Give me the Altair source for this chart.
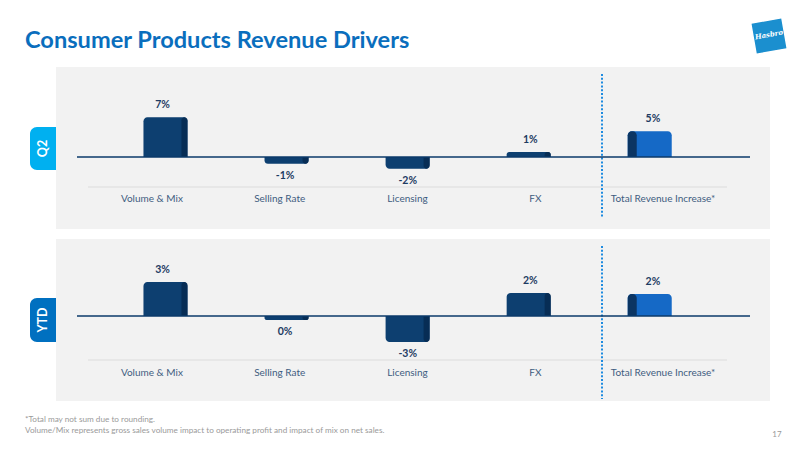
import altair as alt
import pandas as pd

# Revenue driver contributions (percentage points) for each period
categories = ["Volume & Mix", "Selling Rate", "Licensing", "FX", "Total Revenue Increase*"]
q2_values = [7.1, -1.2, -2.1, 0.9, 4.6]
ytd_values = [3.4, -0.4, -2.6, 2.3, 2.2]

title_text = "Consumer Products Revenue Drivers"
footnote_1 = "*Total may not sum due to rounding."
footnote_2 = "Volume/Mix represents gross sales volume impact to operating profit and impact of mix on net sales."
page_number = "17"

FONT = "Lato"
NAVY_TEXT = "#1d3b62"
CAT_TEXT = "#3e5c80"
BAR = "#0d3f70"
BAR_EDGE = "#072d55"
TOTAL = "#1569c6"
TOTAL_EDGE = "#0b3563"
PANEL = "#f2f2f2"

one = pd.DataFrame({"k": [0]})

# position scale for the bars: one slot per driver
X = alt.X("idx:Q", axis=None,
          scale=alt.Scale(domain=[-1.3254, 5.1999], nice=False, zero=False))
# evenly spaced slots for the category captions along the separator line
X_CAPTION = alt.X("idx:Q", axis=None,
                  scale=alt.Scale(domain=[-1.1886, 5.0712], nice=False, zero=False))


def frame(values):
    return pd.DataFrame({
        "idx": list(range(len(categories))),
        "category": categories,
        "value": values,
        "label": [f"{round(v)}%" for v in values],
        "total": [False] * (len(categories) - 1) + [True],
    })


def rect(x1, x2, y1, y2, color, **kw):
    return alt.Chart(one).mark_rect(color=color, **kw).encode(
        x=alt.value(x1), x2=alt.value(x2), y=alt.value(y1), y2=alt.value(y2))


def hline(x1, x2, y, color, width, **kw):
    return alt.Chart(one).mark_rule(color=color, strokeWidth=width, **kw).encode(
        x=alt.value(x1), x2=alt.value(x2), y=alt.value(y))


def vline(x, y1, y2, color, width, **kw):
    return alt.Chart(one).mark_rule(color=color, strokeWidth=width, **kw).encode(
        x=alt.value(x), y=alt.value(y1), y2=alt.value(y2))


def label(x, y, text, **kw):
    return alt.Chart(one).mark_text(**kw).encode(
        x=alt.value(x), y=alt.value(y), text=alt.value(text))


def data_layers(values, y_domain):
    df = frame(values)
    y = alt.Y("value:Q", axis=None, stack=False,
              scale=alt.Scale(domain=y_domain, nice=False))
    base = alt.Chart(df)
    up = {"cornerRadiusTopLeft": 4, "cornerRadiusTopRight": 4}
    down = {"cornerRadiusBottomLeft": 4, "cornerRadiusBottomRight": 4}
    pos = "!datum.total && datum.value >= 0"
    neg = "!datum.total && datum.value < 0"
    tot = "datum.total"
    bars = [
        base.transform_filter(pos).mark_bar(orient="vertical", width=44, color=BAR, **up),
        base.transform_filter(pos).mark_bar(orient="vertical", width=6, xOffset=19,
                                            color=BAR_EDGE, **up),
        base.transform_filter(neg).mark_bar(orient="vertical", width=44, color=BAR, **down),
        base.transform_filter(neg).mark_bar(orient="vertical", width=6, xOffset=19,
                                            color=BAR_EDGE, **down),
        base.transform_filter(tot).mark_bar(orient="vertical", width=44, color=TOTAL, **up),
        base.transform_filter(tot).mark_bar(orient="vertical", width=9, xOffset=-17.5,
                                            color=TOTAL_EDGE, **up),
    ]
    bars = [b.encode(x=X, y=y) for b in bars]
    texts = [
        base.transform_filter("datum.value >= 0").mark_text(
            dy=-12, baseline="middle", font=FONT, fontWeight="bold", fontSize=10.5,
            color=NAVY_TEXT).encode(x=X, y=y, text="label:N"),
        base.transform_filter("datum.value < 0").mark_text(
            dy=12, baseline="middle", font=FONT, fontWeight="bold", fontSize=10.5,
            color=NAVY_TEXT).encode(x=X, y=y, text="label:N"),
    ]
    return df, bars, texts


def category_labels(df, y_px):
    return alt.Chart(df).mark_text(font=FONT, fontSize=10, color=CAT_TEXT,
                                   baseline="middle").encode(
        x=X_CAPTION, y=alt.value(y_px), text="category:N")


# Value scales: Q2 uses 5.6 px per point with zero at y=157,
# YTD uses 10 px per point with zero at y=316 (canvas height 450)
q2_df, q2_bars, q2_text = data_layers(q2_values, [-52.32, 28.04])
ytd_df, ytd_bars, ytd_text = data_layers(ytd_values, [-13.4, 31.6])

decor_back = [
    rect(56, 770, 67, 229, PANEL),
    rect(56, 770, 239, 401, PANEL),
    rect(30, 56, 127, 170, "#00b0f0", cornerRadiusTopLeft=7, cornerRadiusBottomLeft=7),
    rect(30, 56, 298, 342, "#0070c0", cornerRadiusTopLeft=7, cornerRadiusBottomLeft=7),
    hline(88, 727, 187, "#dcdcdc", 1),
    hline(88, 727, 360, "#dcdcdc", 1),
    vline(602, 74, 218, "#1e8be0", 2, strokeDash=[2, 1.8]),
    vline(602, 246, 399, "#1e8be0", 2, strokeDash=[2, 1.8]),
]
zero_lines = [
    hline(77, 750, 157, "#0b3a6a", 1.5),
    hline(77, 750, 316, "#0b3a6a", 1.5),
]
texts = [
    label(43, 148.5, "Q2", angle=270, color="white", font=FONT, fontWeight="bold",
          fontSize=12.5, baseline="middle", align="center"),
    label(43, 320, "YTD", angle=270, color="white", font=FONT, fontWeight="bold",
          fontSize=12.5, baseline="middle", align="center"),
    label(25, 47.5, title_text, font=FONT, fontWeight="bold", fontSize=23.6,
          color="#0a6ebd", align="left", baseline="alphabetic"),
    label(25, 420, footnote_1, font=FONT, fontSize=8.2, color="#9a9a9a",
          align="left", baseline="middle"),
    label(25, 431, footnote_2, font=FONT, fontSize=8.2, color="#9a9a9a",
          align="left", baseline="middle"),
    label(777, 435, page_number, font=FONT, fontSize=8, color="#9a9a9a",
          align="center", baseline="middle"),
]
logo = [
    alt.Chart(one).mark_square(size=1000, angle=350, opacity=1, color="#1b8fcf",
                               stroke="white", strokeWidth=1.5).encode(
        x=alt.value(769), y=alt.value(36)),
    label(769, 35, "Hasbro", font="DejaVu Serif", fontStyle="italic",
          fontWeight="bold", fontSize=7, color="white", angle=350,
          align="center", baseline="middle"),
]

chart = alt.layer(
    *decor_back, *q2_bars, *ytd_bars, *zero_lines, *q2_text, *ytd_text,
    category_labels(q2_df, 199), category_labels(ytd_df, 373), *texts, *logo,
).resolve_scale(x="independent", y="independent").properties(
    width=800, height=450, padding=0, background="white"
).configure_view(strokeWidth=0)

chart.save("out.html", embed_options={"renderer": "svg", "actions": False})
